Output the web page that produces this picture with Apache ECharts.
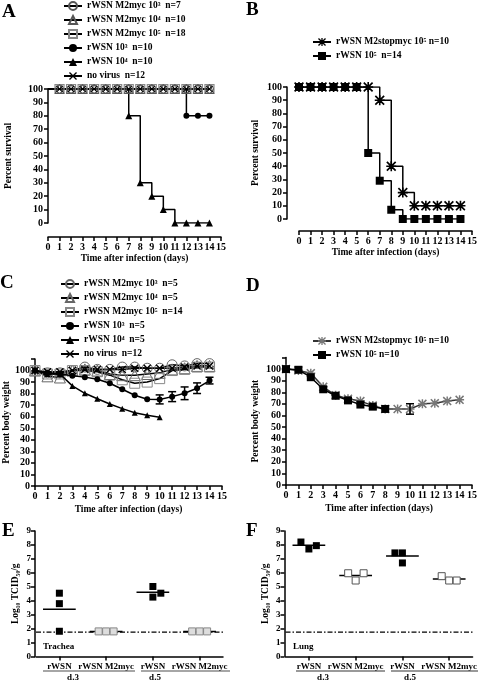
<!DOCTYPE html>
<html><head><meta charset="utf-8">
<script src="https://cdn.jsdelivr.net/npm/echarts@6/dist/echarts.min.js"></script>
<style>html,body{margin:0;padding:0;background:#fff}#c{width:480px;height:682px}</style>
</head><body><div id="c"></div>
<script>
const FONT = '"Liberation Serif","DejaVu Serif",serif';
const days = [0,1,2,3,4,5,6,7,8,9,10,11,12,13,14];

// ---- Panel A: percent survival
const A_m2myc3 = [100,100,100,100,100,100,100,100,100,100,100,100,100,100,100];
const A_m2myc4 = [100,100,100,100,100,100,100,100,100,100,100,100,100,100,100];
const A_m2myc5 = [100,100,100,100,100,100,100,100,100,100,100,100,100,100,100];
const A_wsn3   = [100,100,100,100,100,100,100,100,100,100,100,100,80,80,80];
const A_wsn4   = [100,100,100,100,100,100,100,80,30,20,10,0,0,0,0];
const A_novir  = [100,100,100,100,100,100,100,100,100,100,100,100,100,100,100];

// ---- Panel B: percent survival
const B_stop = [100,100,100,100,100,100,100,90,40,20,10,10,10,10,10];
const B_wsn  = [100,100,100,100,100,100,50,29,7,0,0,0,0,0,0];

// ---- Panel C: percent body weight
const C_m2myc3 = [100,98,98,100,103,101,101,103,103,102,102,105,104,106,106];
const C_m2myc4 = [100,95,94,100,101,100,97,96,96,97,98,101,102,104,104];
const C_m2myc5 = [100,97,97,100,100,99,96,92,89,90,93,100,101,103,103];
const C_wsn3   = [100,98,97,95.4,94.3,92.5,89,83.8,78.6,75.1,75,77.4,80.3,84.7,91.3];
const C_wsn3Err= [0,0,0,0,0,0,0,0,0,0,3.9,4.3,5.5,4.6,2.9];
const C_wsn4   = [100,97,97,86.7,80.3,75.6,71,67,63.5,61.2,59.6];
const C_novir  = [100,99,99,100,101,101,101,101,102,102,102,102,103,104,104];

// ---- Panel D: percent body weight
const D_stop    = [100,98.8,96.5,84.7,77.4,74.4,72.4,68.5,65.6,65.6,65.6,70,70.6,72.4,73.5];
const D_stopErr = [0,0,0,0,0,0,0,0,0,0,4.5,0,0,0,0];
const D_wsn     = [100,99.4,93,82.6,77,73,69.4,67.6,65.6];

// ---- Panels E/F: Log10 TCID50/g
const groupLabels = ['rWSN','rWSN M2myc','rWSN','rWSN M2myc'];
const dayLabels = ['d.3','d.5'];
const E_vals  = [[4.54,3.79,1.81],[1.8,1.8,1.8],[5.02,4.26,4.54],[1.8,1.8,1.8]];
const E_means = [3.38,1.8,4.61,1.8];
const F_vals  = [[8.21,7.71,7.95],[5.97,5.45,5.97],[7.43,7.43,6.71],[5.76,5.45,5.45]];
const F_means = [7.97,5.81,7.21,5.55];
const detectionLimit = 1.75;
const E_jitter = [[0,0,0],[-0.16,0,0.16],[0,0,0.17],[-0.16,0,0.16]];
const F_jitter = [[-0.17,0,0.16],[-0.16,0,0.17],[-0.16,0,0],[-0.16,0,0.16]];

const CROSS = 'path://M0,1.2L1.2,0L5,3.8L8.8,0L10,1.2L6.2,5L10,8.8L8.8,10L5,6.2L1.2,10L0,8.8L3.8,5Z';
const STAR = 'path://M4.2,0H5.8V4.2H10V5.8H5.8V10H4.2V5.8H0V4.2H4.2Z M0,1.2L1.2,0L5,3.8L8.8,0L10,1.2L6.2,5L10,8.8L8.8,10L5,6.2L1.2,10L0,8.8L3.8,5Z';

const txt = (size) => ({color:'#000', fontFamily:FONT, fontWeight:'bold', fontSize:size});

function xAxisDays(grid, offset) {
  return {type:'value', gridIndex:grid, min:0, max:15, interval:1, offset:offset,
    axisLine:{show:true, onZero:false, lineStyle:{color:'#000', width:1.5}},
    axisTick:{show:true, length:4, lineStyle:{color:'#000', width:1.5}},
    axisLabel:Object.assign({margin:5}, txt(10)),
    splitLine:{show:false},
    name:'Time after infection (days)', nameLocation:'middle', nameGap:offset ? 17 : 19,
    nameTextStyle:txt(9.5)};
}
function yAxisPct(grid, max, name, gap, offset) {
  return {type:'value', gridIndex:grid, min:0, max:max, interval:10, offset:offset||0,
    axisLine:{show:true, onZero:false, lineStyle:{color:'#000', width:1.5}},
    axisTick:{show:true, length:4, lineStyle:{color:'#000', width:1.5}},
    axisLabel:Object.assign({margin:5, formatter:v => v > 100 ? '' : v}, txt(10)),
    splitLine:{show:false},
    name:name, nameLocation:'middle', nameGap:gap, nameTextStyle:txt(9.5)};
}
function yAxisLog(grid) {
  return {type:'value', gridIndex:grid, min:0, max:9, interval:1, offset:1,
    axisLine:{show:true, lineStyle:{color:'#000', width:1.5}},
    axisTick:{show:true, length:4, lineStyle:{color:'#000', width:1.5}},
    axisLabel:Object.assign({margin:4}, txt(9)),
    splitLine:{show:false},
    name:'Log₁₀ TCID₅₀/g', nameLocation:'middle', nameGap:14, nameTextStyle:txt(9.5)};
}
function xAxisCat(grid) {
  return {type:'category', gridIndex:grid, data:['0','1','2','3'],
    axisLine:{show:true, lineStyle:{color:'#000', width:1.5}},
    axisTick:{show:true, alignWithLabel:true, length:4, lineStyle:{color:'#000', width:1.5}},
    axisLabel:Object.assign({margin:6, interval:0, formatter:(v,i)=>groupLabels[i]}, txt(9))};
}
function xAxisHidden(grid) {
  return {type:'value', gridIndex:grid, min:0.5, max:4.5, show:false, splitLine:{show:false}};
}

function line(name, xi, vals, o) {
  const data = vals.map((v,i) => {
    const item = {value:[days[i], v]};
    if (o.hide && o.hide(i, v)) item.symbol = 'none';
    return item;
  });
  return {type:'line', name:name, xAxisIndex:xi, yAxisIndex:xi, data:data,
    step:o.step || false, symbol:o.symbol, symbolSize:o.size, showAllSymbol:true,
    z:o.z || 2, animation:false,
    lineStyle:{color:o.lineColor || '#000', width:1.5},
    itemStyle:{color:o.fill, borderColor:o.border || o.fill, borderWidth:o.bw || 0, opacity:1}};
}
function errBars(xi, vals, errs) {
  const data = [];
  vals.forEach((v,i) => { if (errs[i] > 0) data.push([days[i], v, errs[i]]); });
  return {type:'custom', xAxisIndex:xi, yAxisIndex:xi, data:data, z:5, animation:false,
    renderItem(params, api) {
      const x = api.value(0), y = api.value(1), e = api.value(2);
      const p1 = api.coord([x, y+e]), p2 = api.coord([x, y-e]);
      const w = 4, st = {stroke:'#000', lineWidth:1.5};
      return {type:'group', children:[
        {type:'line', shape:{x1:p1[0],y1:p1[1],x2:p2[0],y2:p2[1]}, style:st},
        {type:'line', shape:{x1:p1[0]-w,y1:p1[1],x2:p1[0]+w,y2:p1[1]}, style:st},
        {type:'line', shape:{x1:p2[0]-w,y1:p2[1],x2:p2[0]+w,y2:p2[1]}, style:st}]};
    }};
}
function dotSeries(xi, yi, vals, jit, groups, style) {
  const data = [];
  groups.forEach(g => vals[g].forEach((v,k) => data.push([g+1+jit[g][k], v])));
  return Object.assign({type:'scatter', xAxisIndex:xi, yAxisIndex:yi, data:data, symbol:'rect',
    animation:false, z:4}, style);
}
function meanSeries(xi, yi, means, color) {
  return {type:'custom', xAxisIndex:xi, yAxisIndex:yi, z:3, animation:false,
    data:means.map((m,i) => [i+1, m]),
    renderItem(params, api) {
      const c = api.coord([api.value(0), api.value(1)]);
      const hw = api.size([0.35, 0])[0];
      return {type:'line', shape:{x1:c[0]-hw, y1:c[1], x2:c[0]+hw, y2:c[1]},
        style:{stroke:color, lineWidth:1.5}};
    }};
}
function limitLine(xi, yi) {
  return {type:'line', xAxisIndex:xi, yAxisIndex:yi, symbol:'none', animation:false,
    data:[[0.5, detectionLimit],[4.55, detectionLimit]], clip:false,
    lineStyle:{color:'#000', width:1.2, type:[5,2,1.5,2]}};
}

const at100 = (i, v) => v === 100;
const series = [
  // A
  line('rWSN M2myc 10⁵  n=18', 0, A_m2myc5, {symbol:'rect', size:9, fill:'rgba(0,0,0,0)', border:'#888', bw:1.2, hide:(i)=>i===0}),
  line('rWSN M2myc 10³  n=7', 0, A_m2myc3, {symbol:'circle', size:8, fill:'rgba(0,0,0,0)', border:'#555', bw:1, hide:(i)=>i===0}),
  line('rWSN M2myc 10⁴  n=10', 0, A_m2myc4, {symbol:'triangle', size:9, fill:'rgba(0,0,0,0)', border:'#555', bw:1, hide:(i)=>i===0}),
  line('rWSN 10³  n=10', 0, A_wsn3, {step:'end', symbol:'circle', size:6, fill:'#000', hide:at100}),
  line('rWSN 10⁴  n=10', 0, A_wsn4, {step:'end', symbol:'triangle', size:7, fill:'#000', hide:at100}),
  line('no virus  n=12', 0, A_novir, {symbol:CROSS, size:7, fill:'#000', hide:(i)=>i===0}),
  // B
  line('rWSN M2stopmyc 10⁵ n=10', 1, B_stop, {step:'end', symbol:STAR, size:10, fill:'#000'}),
  line('rWSN 10⁵  n=14', 1, B_wsn, {step:'end', symbol:'rect', size:8, fill:'#000', z:3}),
  // C
  line('rWSN M2myc 10³  n=5', 2, C_m2myc3, {symbol:'circle', size:10, fill:'rgba(0,0,0,0)', border:'#666', bw:1}),
  line('rWSN M2myc 10⁴  n=5', 2, C_m2myc4, {symbol:'triangle', size:11, fill:'rgba(0,0,0,0)', border:'#666', bw:1}),
  line('rWSN M2myc 10⁵  n=14', 2, C_m2myc5, {symbol:'rect', size:10, fill:'rgba(0,0,0,0)', border:'#888', bw:1}),
  line('rWSN 10³  n=5', 2, C_wsn3, {symbol:'circle', size:6, fill:'#000', z:3}),
  line('rWSN 10⁴  n=5', 2, C_wsn4, {symbol:'triangle', size:6, fill:'#000', z:3}),
  line('no virus  n=12 ', 2, C_novir, {symbol:CROSS, size:8, fill:'#000'}),
  errBars(2, C_wsn3, C_wsn3Err),
  // D
  line('rWSN M2stopmyc 10⁵ n=10 ', 3, D_stop, {symbol:STAR, size:9, fill:'#777', lineColor:'#333'}),
  line('rWSN 10⁵ n=10', 3, D_wsn, {symbol:'rect', size:8, fill:'#000', z:3}),
  errBars(3, D_stop, D_stopErr),
  // E
  limitLine(5, 4),
  meanSeries(5, 4, E_means, '#000'),
  dotSeries(5, 4, E_vals, E_jitter, [0,2], {symbolSize:7, itemStyle:{color:'#000', opacity:1}}),
  dotSeries(5, 4, E_vals, E_jitter, [1,3], {symbolSize:7, itemStyle:{color:'#ddd', borderColor:'#888', borderWidth:1, opacity:1}}),
  // F
  limitLine(7, 5),
  meanSeries(7, 5, F_means, '#000'),
  dotSeries(7, 5, F_vals, F_jitter, [0,2], {symbolSize:7, itemStyle:{color:'#000', opacity:1}}),
  dotSeries(7, 5, F_vals, F_jitter, [1,3], {symbolSize:7, itemStyle:{color:'#fff', borderColor:'#555', borderWidth:1, opacity:1}})
];

const legendBase = {orient:'vertical', itemWidth:18, itemHeight:10, itemGap:4, selectedMode:false,
  textStyle:Object.assign({lineHeight:10}, txt(9.5)), padding:0};
const legend = [
  Object.assign({}, legendBase, {left:63, top:1, data:['rWSN M2myc 10³  n=7','rWSN M2myc 10⁴  n=10','rWSN M2myc 10⁵  n=18','rWSN 10³  n=10','rWSN 10⁴  n=10','no virus  n=12']}),
  Object.assign({}, legendBase, {left:312, top:37, data:['rWSN M2stopmyc 10⁵ n=10','rWSN 10⁵  n=14']}),
  Object.assign({}, legendBase, {left:60, top:279, data:['rWSN M2myc 10³  n=5','rWSN M2myc 10⁴  n=5','rWSN M2myc 10⁵  n=14','rWSN 10³  n=5','rWSN 10⁴  n=5','no virus  n=12 ']}),
  Object.assign({}, legendBase, {left:312, top:336, data:['rWSN M2stopmyc 10⁵ n=10 ','rWSN 10⁵ n=10']})
];

const grid = [
  {left:48, top:89, width:173, height:134},
  {left:299, top:87, width:174, height:132},
  {left:35, top:359, width:187, height:127},
  {left:286, top:357.5, width:189, height:127.5},
  {left:36, top:531, width:187, height:125.5},
  {left:285.5, top:531, width:187.5, height:125.5}
];

const letter = (t, x, y) => ({type:'text', left:x, top:y, style:{text:t, font:'bold 19px ' + FONT, fill:'#000'}});
const hline = (x1, x2, y, c) => ({type:'line', shape:{x1:x1, y1:y, x2:x2, y2:y}, style:{stroke:c, lineWidth:1.5}});
const ctext = (t, x, y) => ({type:'text', x:x, y:y, style:{text:t, font:'bold 9px ' + FONT, fill:'#000', align:'center', verticalAlign:'middle'}});
const ltext = (t, x, y) => ({type:'text', x:x, y:y, style:{text:t, font:'bold 9px ' + FONT, fill:'#000', align:'left', verticalAlign:'middle'}});

const graphic = [
  letter('A', 2, 3), letter('B', 246, 1), letter('C', 0, 274), letter('D', 246, 277),
  letter('E', 2, 522), letter('F', 246, 522),
  hline(43, 135, 671, '#888'), hline(141, 230, 671, '#888'),
  hline(296, 385, 671, '#777'), hline(391, 478, 671, '#777'),
  ctext(dayLabels[0], 73, 678), ctext(dayLabels[1], 155, 678),
  ctext(dayLabels[0], 323, 678), ctext(dayLabels[1], 410, 678),
  ltext('Trachea', 43, 647), ltext('Lung', 293, 647)
];

const chart = echarts.init(document.getElementById('c'), null, {renderer:'canvas'});
chart.setOption({
  animation:false, backgroundColor:'#fff',
  grid:grid, legend:legend, graphic:graphic,
  xAxis:[xAxisDays(0,14), xAxisDays(1,12), xAxisDays(2,0), xAxisDays(3,0),
         xAxisCat(4), xAxisHidden(4), xAxisCat(5), xAxisHidden(5)],
  yAxis:[yAxisPct(0,100,'Percent survival',34,0), yAxisPct(1,100,'Percent survival',26,12),
         yAxisPct(2,110,'Percent body weight',22,0), yAxisPct(3,110,'Percent body weight',25,0),
         yAxisLog(4), yAxisLog(5)],
  series:series
});
</script></body></html>
